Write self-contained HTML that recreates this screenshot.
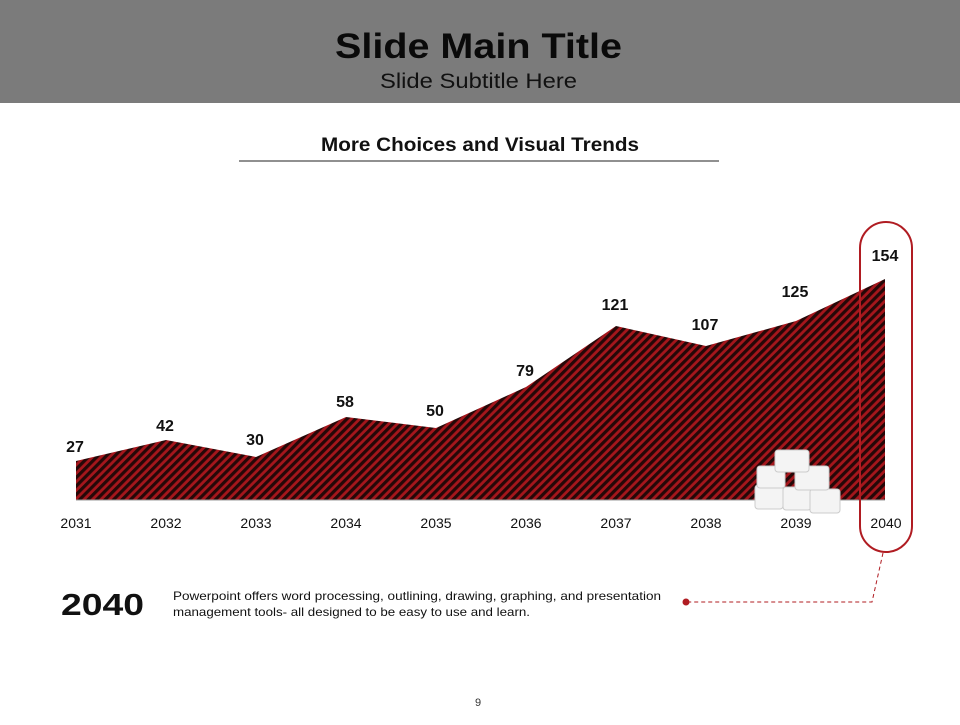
<!DOCTYPE html>
<html><head><style>
body{margin:0;width:960px;height:720px;background:#fff;font-family:"Liberation Sans",sans-serif;overflow:hidden}
</style></head><body>
<svg width="960" height="720" xmlns="http://www.w3.org/2000/svg">
<defs>
<pattern id="h" width="6" height="6" patternUnits="userSpaceOnUse" patternTransform="rotate(45)">
<rect width="6" height="6" fill="#a5161c"/><rect width="3.2" height="6" fill="#250808"/></pattern>
</defs>
<rect x="0" y="0" width="960" height="103" fill="#7b7b7b"/>
<text x="335" y="58" font-size="35" font-weight="bold" fill="#0a0a0a" textLength="287" lengthAdjust="spacingAndGlyphs">Slide Main Title</text>
<text x="380" y="88" font-size="21" fill="#111" textLength="197" lengthAdjust="spacingAndGlyphs">Slide Subtitle Here</text>
<text x="321" y="151" font-size="19" font-weight="bold" fill="#111" textLength="318" lengthAdjust="spacingAndGlyphs">More Choices and Visual Trends</text>
<line x1="239" y1="161" x2="719" y2="161" stroke="#222" stroke-width="1"/>
<polygon fill="url(#h)" points="76,500 76,461 166,440 256,457 346,417 436,428 526,387 616,326 706,346 796,321 885,279 885,500"/>
<line x1="76" y1="500" x2="885" y2="500" stroke="#999"/>
<g font-size="14" fill="#111" text-anchor="middle">
<text x="76" y="528">2031</text><text x="166" y="528">2032</text><text x="256" y="528">2033</text><text x="346" y="528">2034</text><text x="436" y="528">2035</text><text x="526" y="528">2036</text><text x="616" y="528">2037</text><text x="706" y="528">2038</text><text x="796" y="528">2039</text><text x="886" y="528">2040</text>
</g>
<g font-size="16" font-weight="bold" fill="#111" text-anchor="middle">
<text x="75" y="452">27</text><text x="165" y="431">42</text><text x="255" y="445">30</text><text x="345" y="407">58</text><text x="435" y="416">50</text><text x="525" y="376">79</text><text x="615" y="310">121</text><text x="705" y="330">107</text><text x="795" y="297">125</text><text x="885" y="261">154</text>
</g>
<g fill="#f4f4f4" stroke="#ccc" stroke-width="1">
<rect x="755" y="485" width="28" height="24" rx="3"/><rect x="783" y="487" width="28" height="23" rx="3"/><rect x="810" y="489" width="30" height="24" rx="3"/>
<rect x="757" y="466" width="28" height="22" rx="3"/><rect x="795" y="466" width="34" height="24" rx="3"/>
<rect x="775" y="450" width="34" height="22" rx="3"/>
</g>
<rect x="860" y="222" width="52" height="330" rx="26" fill="none" stroke="#b01c22" stroke-width="2"/>
<polyline points="883,553 872,602 686,602" fill="none" stroke="#b01c22" stroke-dasharray="4,3"/>
<circle cx="686" cy="602" r="3.5" fill="#b01c22"/>
<text x="61" y="615" font-size="31" font-weight="bold" fill="#111" textLength="83" lengthAdjust="spacingAndGlyphs">2040</text>
<text x="173" y="600" font-size="12" fill="#111" textLength="488" lengthAdjust="spacingAndGlyphs">Powerpoint offers word processing, outlining, drawing, graphing, and presentation</text>
<text x="173" y="616" font-size="12" fill="#111" textLength="357" lengthAdjust="spacingAndGlyphs">management tools- all designed to be easy to use and learn.</text>
<text x="478" y="706" text-anchor="middle" font-size="11" fill="#333">9</text>
</svg>
</body></html>
